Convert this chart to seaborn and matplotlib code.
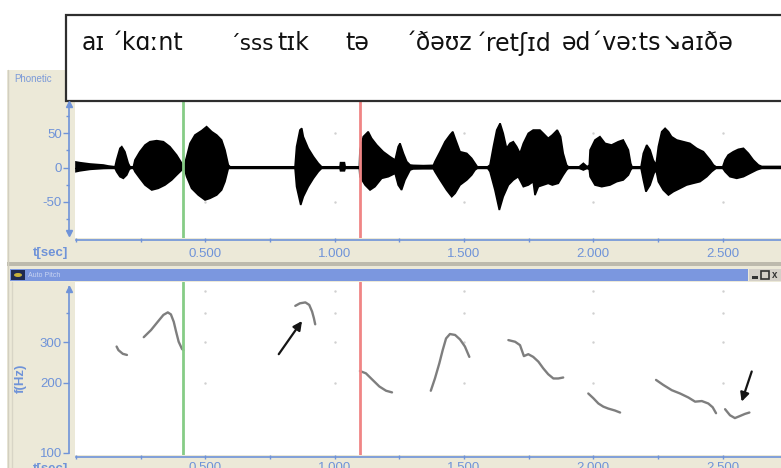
import numpy as np
import pandas as pd
import matplotlib
matplotlib.use("Agg")
import matplotlib.pyplot as plt
from matplotlib.patches import Rectangle, Ellipse
from matplotlib.ticker import FixedLocator, NullFormatter
import seaborn as sns

# ---------------------------------------------------------------- data
# Waveform amplitude envelope: (time in s, amplitude) along the upper and lower edge
WAVE_UPPER = [
    (0.000, 8.0), (0.015, 7.0), (0.054, 5.1), (0.106, 3.6), (0.125, 2.2), (0.151, 1.0),
    (0.157, 10.9), (0.170, 27.8), (0.177, 30.2), (0.189, 22.9), (0.202, 6.0), (0.209, 1.0),
    (0.222, 1.0), (0.228, 10.9), (0.247, 22.9), (0.267, 32.6), (0.286, 37.4), (0.312, 38.9),
    (0.338, 37.4), (0.363, 30.2), (0.389, 18.1), (0.409, 6.0), (0.418, 1.0), (0.421, 6.0),
    (0.428, 15.7), (0.441, 35.0), (0.460, 47.1), (0.486, 53.4), (0.505, 59.2), (0.525, 51.9),
    (0.544, 47.1), (0.563, 39.9), (0.576, 25.4), (0.589, 3.6), (0.596, 1.0), (0.847, 1.0),
    (0.853, 30.2), (0.866, 54.3), (0.873, 56.8), (0.879, 44.7), (0.898, 27.8), (0.918, 15.7),
    (0.937, 6.0), (0.950, 1.0), (1.021, 1.0), (1.023, 7.0), (1.038, 7.0), (1.041, 1.0),
    (1.096, 1.0), (1.098, 25.4), (1.111, 44.7), (1.130, 51.9), (1.143, 42.3), (1.163, 32.6),
    (1.188, 22.9), (1.214, 15.7), (1.234, 10.9), (1.246, 30.2), (1.253, 35.0), (1.266, 20.5),
    (1.279, 8.5), (1.292, 3.6), (1.304, 3.1), (1.343, 2.7), (1.382, 3.1), (1.388, 8.5),
    (1.408, 22.9), (1.427, 37.4), (1.446, 47.1), (1.457, 51.9), (1.466, 42.3), (1.485, 22.9),
    (1.511, 20.5), (1.530, 13.3), (1.543, 6.0), (1.552, 1.0), (1.592, 1.0), (1.601, 3.6),
    (1.614, 30.2), (1.627, 54.3), (1.640, 64.0), (1.652, 49.5), (1.665, 27.8), (1.678, 35.0),
    (1.691, 37.4), (1.704, 30.2), (1.717, 20.5), (1.730, 35.0), (1.749, 49.5), (1.768, 54.3),
    (1.794, 54.3), (1.807, 49.5), (1.826, 42.3), (1.842, 47.1), (1.861, 54.3), (1.874, 44.7),
    (1.884, 20.5), (1.897, 3.6), (1.904, 1.0), (1.946, 1.0), (1.962, 6.0), (1.977, 1.0),
    (1.985, 3.6), (1.988, 25.4), (2.007, 39.9), (2.026, 44.7), (2.046, 35.0), (2.071, 32.6),
    (2.097, 37.4), (2.116, 39.9), (2.136, 25.4), (2.145, 6.0), (2.150, 1.0), (2.185, 1.0),
    (2.194, 20.5), (2.207, 32.6), (2.220, 25.4), (2.232, 10.9), (2.243, 3.6), (2.252, 30.2),
    (2.265, 51.9), (2.278, 56.8), (2.291, 51.9), (2.303, 44.7), (2.323, 39.9), (2.349, 37.4),
    (2.374, 35.0), (2.400, 27.8), (2.426, 22.9), (2.452, 10.9), (2.465, 3.6), (2.475, 1.0),
    (2.501, 1.0), (2.510, 10.9), (2.522, 18.1), (2.542, 22.9), (2.561, 26.3), (2.581, 27.8),
    (2.600, 20.5), (2.619, 10.9), (2.639, 3.6), (2.652, 1.5), (2.726, 1.5),
]
WAVE_LOWER = [
    (0.000, -6.0), (0.015, -4.8), (0.054, -2.7), (0.106, -1.2), (0.125, -1.0), (0.151, -1.0),
    (0.157, -6.0), (0.170, -13.3), (0.183, -15.7), (0.196, -10.9), (0.206, -2.7), (0.212, -1.0),
    (0.222, -1.0), (0.228, -6.0), (0.247, -15.7), (0.267, -25.4), (0.293, -32.6), (0.318, -30.2),
    (0.344, -25.4), (0.370, -18.1), (0.389, -10.9), (0.409, -3.6), (0.418, -1.0), (0.421, -4.0),
    (0.428, -13.3), (0.447, -30.2), (0.473, -39.9), (0.499, -47.1), (0.518, -44.7), (0.544, -39.9),
    (0.563, -32.6), (0.576, -20.5), (0.589, -1.2), (0.596, -1.0), (0.847, -1.0), (0.853, -27.8),
    (0.869, -54.3), (0.879, -42.3), (0.898, -27.8), (0.918, -15.7), (0.937, -6.0), (0.950, -1.0),
    (1.021, -1.0), (1.023, -4.8), (1.038, -4.8), (1.041, -1.0), (1.096, -1.0), (1.098, -13.3),
    (1.118, -25.4), (1.137, -32.6), (1.156, -27.8), (1.182, -15.7), (1.208, -13.3), (1.234, -8.5),
    (1.246, -25.4), (1.259, -32.6), (1.272, -18.1), (1.292, -3.6), (1.304, -2.0), (1.343, -1.7),
    (1.382, -1.7), (1.388, -6.0), (1.408, -18.1), (1.433, -32.6), (1.453, -42.3), (1.466, -37.4),
    (1.485, -25.4), (1.511, -18.1), (1.530, -10.9), (1.543, -3.6), (1.552, -1.0), (1.592, -1.0),
    (1.601, -6.0), (1.620, -32.6), (1.637, -61.6), (1.652, -42.3), (1.672, -25.4), (1.691, -18.1),
    (1.710, -13.3), (1.730, -27.8), (1.749, -25.4), (1.768, -20.5), (1.775, -40.0), (1.788, -27.8),
    (1.807, -25.4), (1.826, -23.0), (1.842, -25.4), (1.865, -22.9), (1.884, -10.9), (1.897, -3.6),
    (1.904, -1.0), (1.946, -1.0), (1.962, -3.6), (1.977, -1.0), (1.985, -3.0), (1.988, -13.3),
    (2.007, -25.4), (2.033, -27.8), (2.065, -25.4), (2.091, -20.5), (2.116, -18.1), (2.136, -10.9),
    (2.145, -3.6), (2.150, -1.0), (2.185, -1.0), (2.194, -18.1), (2.204, -35.0), (2.220, -25.4),
    (2.235, -8.5), (2.243, -3.6), (2.252, -20.5), (2.271, -32.6), (2.291, -39.9), (2.310, -35.0),
    (2.336, -30.2), (2.361, -25.4), (2.387, -22.9), (2.413, -20.5), (2.439, -13.3), (2.458, -6.0),
    (2.475, -1.0), (2.501, -1.0), (2.510, -6.0), (2.529, -13.3), (2.555, -15.7), (2.581, -13.3),
    (2.606, -8.5), (2.632, -3.6), (2.652, -1.0), (2.726, -1.0),
]

# Pitch track (Auto Pitch), one pair of arrays per voiced stretch
f0_1_t = [0.157, 0.164, 0.181, 0.197]
f0_1_hz = [287, 277, 267, 264]
f0_2_t = [0.262, 0.290, 0.316, 0.338, 0.355, 0.367, 0.378, 0.387, 0.397, 0.410, 0.415]
f0_2_hz = [315, 338, 367, 393, 403, 395, 367, 333, 301, 280, 277]
f0_3_t = [0.848, 0.866, 0.887, 0.902, 0.913, 0.920, 0.925]
f0_3_hz = [430, 441, 445, 434, 406, 380, 358]
f0_4_t = [1.098, 1.121, 1.147, 1.173, 1.199, 1.222]
f0_4_hz = [225, 220, 206, 193, 185, 182]
f0_5_t = [1.372, 1.388, 1.405, 1.418, 1.431, 1.446, 1.466, 1.485, 1.504, 1.521]
f0_5_hz = [185, 209, 243, 277, 311, 325, 322, 308, 287, 259]
f0_6_t = [1.672, 1.698, 1.717, 1.732, 1.749, 1.768, 1.788, 1.807, 1.826, 1.846, 1.865, 1.884]
f0_6_hz = [306, 301, 291, 261, 266, 259, 247, 231, 218, 209, 209, 211]
f0_7_t = [1.981, 2.000, 2.020, 2.039, 2.058, 2.084, 2.104]
f0_7_hz = [180, 172, 163, 158, 155, 152, 149]
f0_8_t = [2.243, 2.271, 2.304, 2.336, 2.368, 2.394, 2.420, 2.445, 2.462, 2.475]
f0_8_hz = [206, 196, 186, 180, 173, 166, 167, 163, 157, 148]
f0_9_t = [2.510, 2.529, 2.548, 2.568, 2.587, 2.604]
f0_9_hz = [154, 145, 141, 144, 147, 149]

# Cursor positions (s)
CURSOR_START = 0.415
CURSOR_END = 1.098

# Arrows pointing at pitch features: (t_from, hz_from, t_to, hz_to)
ARROW_RISE = (0.784, 266, 0.874, 370)
ARROW_FALL = (2.613, 224, 2.574, 166)

# Axis ticks
TIME_TICKS = [0.5, 1.0, 1.5, 2.0, 2.5]
TIME_LABELS = ["0.500", "1.000", "1.500", "2.000", "2.500"]
TIME_MINOR = [0.0, 0.25, 0.75, 1.25, 1.75, 2.25]
AMP_TICKS = [-50, 0, 50]
AMP_LABELS = ["-50", "0", "50"]
AMP_MINOR = [-75, -25, 25, 75]
HZ_TICKS = [100, 200, 300]
HZ_LABELS = ["100", "200", "300"]
HZ_MINOR = [400]

# Phonetic transcription, word by word
TRANSCRIPTION = ["aɪ", "´kɑːnt", "´sss", "tɪk", "tə", "´ðəʊz", "´retʃɪd", "əd´vəːts", "↘aɪðə"]
TRANSCRIPTION_X_PX = [82, 111, 229, 277, 345, 405, 475, 562, 662]

# ---------------------------------------------------------------- style
sns.set_theme(style="ticks")
plt.rcParams["font.family"] = ["Liberation Sans", "DejaVu Sans"]

BEIGE = "#ECE9D8"
BLUE = "#6F93D8"
BAR_BLUE = "#7B97DF"
GREEN = "#86CC86"
RED = "#F08585"

W, H = 781, 468
fig = plt.figure(figsize=(W / 100, H / 100), dpi=100)
fig.patch.set_facecolor("white")


def axes_px(x0, y0, x1, y1, **kw):
    return fig.add_axes([x0 / W, 1 - y1 / H, (x1 - x0) / W, (y1 - y0) / H], **kw)


# window chrome drawn in pixel coordinates
bg = axes_px(0, 0, W, H, zorder=0)
bg.set_xlim(0, W)
bg.set_ylim(H, 0)
bg.axis("off")
bg.add_patch(Rectangle((7, 70), W - 7, H - 70, facecolor=BEIGE, edgecolor="none"))
bg.plot([7.5, 7.5], [70, H], color="#D2CFC0", lw=1)
bg.plot([11.5, 11.5], [282, H], color="#D8D5C6", lw=1)
bg.add_patch(Rectangle((7, 262), W - 7, 4, facecolor="#BDBAAD", edgecolor="none"))
bg.add_patch(Rectangle((10, 269), 738, 12, facecolor=BAR_BLUE, edgecolor="none"))
bg.add_patch(Rectangle((11, 270), 14, 10, facecolor="#1F2B52", edgecolor="none"))
bg.add_patch(Ellipse((18, 275), 8, 4, facecolor="#C8B23A", edgecolor="none"))
bg.text(28, 275.5, "Auto Pitch", fontsize=5, color="#C9D4F2", va="center", ha="left")
bg.add_patch(Rectangle((749, 269), 32, 12, facecolor="#D4D0C8", edgecolor="none"))
bg.add_patch(Rectangle((752, 276), 6, 3, facecolor="#333333", edgecolor="none"))
bg.add_patch(Rectangle((761, 271), 8, 8, facecolor="none", edgecolor="#333333", lw=1.2))
bg.text(775, 275.5, "x", fontsize=7, color="#333333", ha="center", va="center", fontweight="bold")
bg.text(14, 79, "Phonetic", fontsize=7, color="#7B9AD8", ha="left", va="center")
bg.text(51, 253, "t[sec]", fontsize=9.5, color=BLUE, ha="center", va="center", fontweight="bold")
bg.text(51, 469, "t[sec]", fontsize=9.5, color=BLUE, ha="center", va="center", fontweight="bold")
bg.text(21, 378, "f(Hz)", fontsize=9.5, color=BLUE, ha="center", va="center",
        fontweight="bold", rotation=90)

T0 = (75 - 76) / 258.6
T1 = (781 - 76) / 258.6


def style_axis(ax, xpad):
    ax.set_facecolor("white")
    for s in ("top", "right"):
        ax.spines[s].set_visible(False)
    for s in ("left", "bottom"):
        ax.spines[s].set_color(BLUE)
        ax.spines[s].set_linewidth(1.2)
    ax.spines["left"].set_position(("outward", 6 * 0.72))
    ax.spines["bottom"].set_position(("outward", 2 * 0.72))
    ax.spines["bottom"].set_bounds(0, T1)
    ax.set_xlim(T0, T1)
    ax.set_xticks(TIME_TICKS)
    ax.set_xticklabels(TIME_LABELS)
    ax.set_xticks(TIME_MINOR, minor=True)
    ax.tick_params(axis="x", which="both", bottom=True, direction="inout", length=3,
                   width=1, colors=BLUE, labelsize=9.5, pad=xpad)
    ax.tick_params(axis="y", which="major", left=True, direction="out", length=4,
                   width=1, colors=BLUE, labelsize=9.5, pad=1)
    ax.tick_params(axis="y", which="minor", left=True, direction="out", length=2.5,
                   width=1, colors=BLUE)
    ax.set_xlabel("")
    ax.set_ylabel("")


# ------------------------------------------------------------ waveform
ax_w = axes_px(75, 75, 781, 238, zorder=2)
style_axis(ax_w, xpad=4)
ax_w.set_ylim(-102.2, 134.1)
ax_w.spines["left"].set_bounds(-94, 94)
ax_w.set_yticks(AMP_TICKS)
ax_w.set_yticklabels(AMP_LABELS)
ax_w.set_yticks(AMP_MINOR, minor=True)

gx, gy = np.meshgrid(TIME_TICKS, [-50, 50, 100])
ax_w.scatter(gx.ravel(), gy.ravel(), s=3, color="#D0D0D0", linewidths=0, zorder=1)

up_t, up_a = zip(*WAVE_UPPER)
lo_t, lo_a = zip(*WAVE_LOWER)
ax_w.fill(np.concatenate([up_t, lo_t[::-1]]), np.concatenate([up_a, lo_a[::-1]]),
          facecolor="black", edgecolor="black", lw=1.2, joinstyle="miter", zorder=3)
ax_w.axhline(0, color="black", lw=1.0, zorder=3)
ax_w.axvline(CURSOR_START, color=GREEN, lw=2, zorder=4)
ax_w.axvline(CURSOR_END, color=RED, lw=2, zorder=4)

# --------------------------------------------------------------- pitch
ax_p = axes_px(75, 282, 781, 455, zorder=2)
ax_p.set_yscale("log")
style_axis(ax_p, xpad=2)
ax_p.set_ylim(97.7, 545)
ax_p.spines["left"].set_bounds(100, 518)
ax_p.yaxis.set_major_locator(FixedLocator(HZ_TICKS))
ax_p.set_yticklabels(HZ_LABELS)
ax_p.yaxis.set_minor_locator(FixedLocator(HZ_MINOR))
ax_p.yaxis.set_minor_formatter(NullFormatter())

gx, gy = np.meshgrid(TIME_TICKS, [200, 300, 400, 500])
ax_p.scatter(gx.ravel(), gy.ravel(), s=3, color="#D0D0D0", linewidths=0, zorder=1)

tracks = [(f0_1_t, f0_1_hz), (f0_2_t, f0_2_hz), (f0_3_t, f0_3_hz), (f0_4_t, f0_4_hz),
          (f0_5_t, f0_5_hz), (f0_6_t, f0_6_hz), (f0_7_t, f0_7_hz), (f0_8_t, f0_8_hz),
          (f0_9_t, f0_9_hz)]
pitch = pd.concat(
    [pd.DataFrame({"t": t, "hz": hz, "seg": i}) for i, (t, hz) in enumerate(tracks)],
    ignore_index=True)
sns.lineplot(data=pitch, x="t", y="hz", units="seg", estimator=None, sort=False,
             color="#7E7E7E", lw=1.7, legend=False, ax=ax_p, zorder=3)
ax_p.set_xlabel("")
ax_p.set_ylabel("")
ax_p.set_xlim(T0, T1)
ax_p.set_ylim(97.7, 545)

ax_p.axvline(CURSOR_START, color=GREEN, lw=2, zorder=4)
ax_p.axvline(CURSOR_END, color=RED, lw=2, zorder=4)

for t0, h0, t1, h1 in (ARROW_RISE, ARROW_FALL):
    ax_p.annotate("", xy=(t1, h1), xytext=(t0, h0),
                  arrowprops=dict(arrowstyle="-|>", color="#151515", lw=1.6,
                                  mutation_scale=13, shrinkA=0, shrinkB=0), zorder=5)

# ------------------------------------------------------------- overlay
ov = axes_px(0, 0, W, H, zorder=6)
ov.set_xlim(0, W)
ov.set_ylim(H, 0)
ov.axis("off")
ov.patch.set_alpha(0)
ov.plot([69], [104], marker="^", ms=5, color=BLUE, mec=BLUE)
ov.plot([69], [232.5], marker="v", ms=5, color=BLUE, mec=BLUE)
ov.plot([69], [288.5], marker="^", ms=5, color=BLUE, mec=BLUE)

ov.add_patch(Rectangle((66, 15), W, 86, facecolor="white", edgecolor="#2E2E2E", lw=1.6))
for word, xw in zip(TRANSCRIPTION, TRANSCRIPTION_X_PX):
    size = 15.5 if word == "´sss" else 17
    ov.text(xw, 50.5, word, fontsize=size, color="#111111", ha="left", va="baseline",
            family=["DejaVu Sans"])

fig.savefig("out.png", dpi=100)
